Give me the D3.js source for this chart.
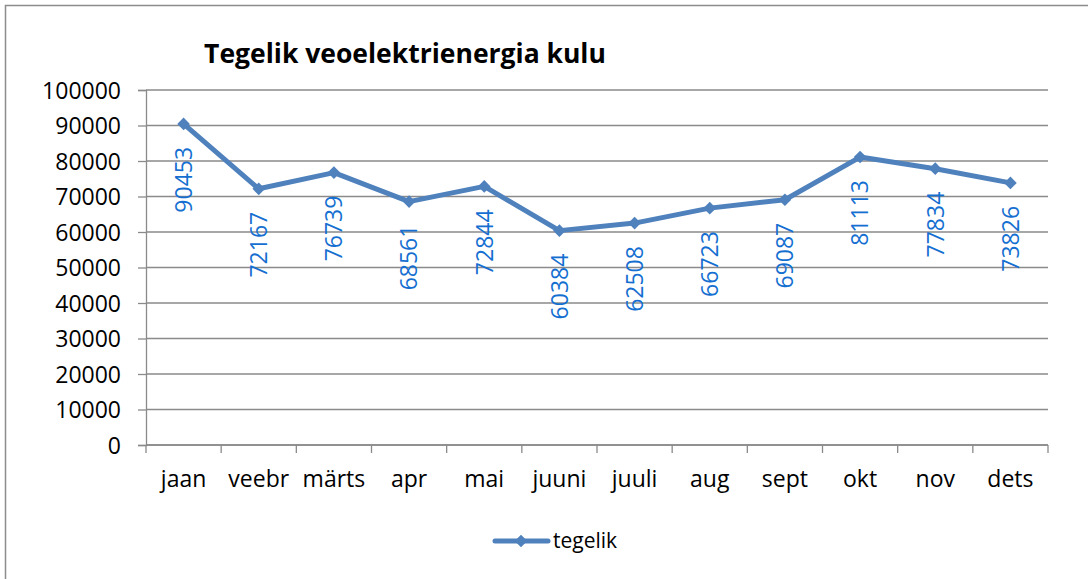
<!DOCTYPE html>
<html>
<head>
<meta charset="utf-8">
<script src="https://cdn.jsdelivr.net/npm/d3@7"></script>
<style>
body{margin:0;background:#fff;}
text{font-family:"Open Sans","Liberation Sans",sans-serif;}
</style>
</head>
<body>
<script>
// data
var months = ["jaan","veebr","märts","apr","mai","juuni","juuli","aug","sept","okt","nov","dets"];
var tegelik = [90453,72167,76739,68561,72844,60384,62508,66723,69087,81113,77834,73826];
var yTicks = [0,10000,20000,30000,40000,50000,60000,70000,80000,90000,100000];

var W = 1088, H = 579;
var plotL = 146, plotR = 1048, plotT = 90, plotB = 445;

var svg = d3.select("body").append("svg")
    .attr("width", W)
    .attr("height", H);

// outer frame
svg.append("rect")
    .attr("x", 5.5).attr("y", 5.5)
    .attr("width", W + 20).attr("height", H + 20)
    .attr("fill", "none")
    .attr("stroke", "#8c8c8c")
    .attr("stroke-width", 1.5);

var x = d3.scaleBand().domain(months).range([plotL, plotR]);
var y = d3.scaleLinear().domain([0, 100000]).range([plotB, plotT]);

// gridlines
svg.selectAll(".grid").data(yTicks).enter().append("line")
    .attr("x1", plotL).attr("x2", plotR)
    .attr("y1", function(d){return y(d);})
    .attr("y2", function(d){return y(d);})
    .attr("stroke", "#8a8a8a")
    .attr("stroke-width", 1.3);

// y axis
var yAxis = svg.append("g")
    .attr("transform", "translate(" + plotL + ",0)")
    .call(d3.axisLeft(y).tickValues(yTicks).tickSize(8).tickPadding(17).tickFormat(d3.format("d")));
yAxis.select(".domain").attr("stroke", "#8a8a8a").attr("stroke-width", 1.3);
yAxis.selectAll("line").attr("stroke", "#8a8a8a").attr("stroke-width", 1.3);
yAxis.selectAll("text").style("font-size", "23px").attr("fill", "#000").attr("dy", "0.36em");

// x axis with ticks on band boundaries
var xAxis = svg.append("g")
    .attr("transform", "translate(0," + plotB + ")");
xAxis.append("line")
    .attr("x1", plotL).attr("x2", plotR)
    .attr("stroke", "#8a8a8a").attr("stroke-width", 1.3);
var bounds = months.map(function(m){return x(m);}).concat([plotR]);
xAxis.selectAll(".tk").data(bounds).enter().append("line")
    .attr("x1", function(d){return d;}).attr("x2", function(d){return d;})
    .attr("y1", 0).attr("y2", 8)
    .attr("stroke", "#8a8a8a").attr("stroke-width", 1.3);
xAxis.selectAll(".lbl").data(months).enter().append("text")
    .attr("x", function(d){return x(d) + x.bandwidth()/2;})
    .attr("y", 42)
    .attr("text-anchor", "middle")
    .style("font-size", "23px")
    .text(function(d){return d;});

// line
var cx = function(d,i){return x(months[i]) + x.bandwidth()/2;};
var line = d3.line()
    .x(function(d,i){return cx(d,i);})
    .y(function(d){return y(d);});
svg.append("path")
    .datum(tegelik)
    .attr("d", line)
    .attr("fill", "none")
    .attr("stroke", "#4f81bd")
    .attr("stroke-width", 5)
    .attr("stroke-linejoin", "round");

var diamond = d3.symbol().type(d3.symbolSquare).size(80);
svg.selectAll(".mk").data(tegelik).enter().append("path")
    .attr("d", diamond)
    .attr("transform", function(d,i){return "translate(" + cx(d,i) + "," + y(d) + ") rotate(45)";})
    .attr("fill", "#4f81bd");

// data labels, rotated, below point
svg.selectAll(".dl").data(tegelik).enter().append("text")
    .attr("transform", function(d,i){return "translate(" + cx(d,i) + "," + (y(d) + 23) + ") rotate(-90)";})
    .attr("text-anchor", "end")
    .attr("dy", "0.36em")
    .style("font-size", "23px")
    .attr("fill", "#156fd1")
    .text(function(d){return d;});

// title
svg.append("text")
    .attr("x", 405).attr("y", 63)
    .attr("text-anchor", "middle")
    .style("font-size", "26.5px")
    .style("font-weight", "bold")
    .text("Tegelik veoelektrienergia kulu");

// legend
svg.append("line")
    .attr("x1", 495).attr("x2", 548)
    .attr("y1", 541).attr("y2", 541)
    .attr("stroke", "#4f81bd").attr("stroke-width", 5)
    .attr("stroke-linecap", "round");
svg.append("path")
    .attr("d", diamond)
    .attr("transform", "translate(521,541) rotate(45)")
    .attr("fill", "#4f81bd");
svg.append("text")
    .attr("x", 553).attr("y", 548)
    .style("font-size", "21px")
    .text("tegelik");
</script>
</body>
</html>
